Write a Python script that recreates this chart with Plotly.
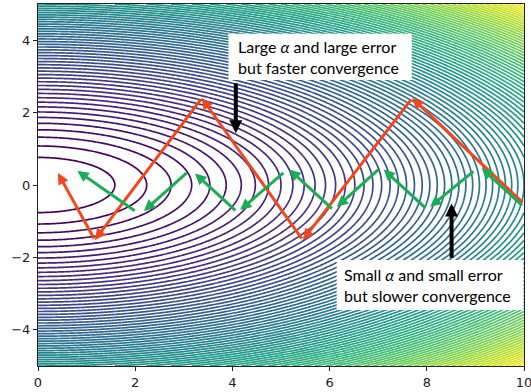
import numpy as np
import plotly.graph_objects as go

# Cost surface parameters (elongated bowl centred at origin)
X_RANGE = (0.0, 10.0)
Y_RANGE = (-5.0, 5.0)
Y_WEIGHT = 4.3
LEVEL_STEP = 2.5

# Large learning-rate path (red)
red_x = [10.0, 7.70, 5.45, 3.37, 1.17, 0.41]
red_y = [-0.52, 2.40, -1.52, 2.40, -1.52, 0.33]

# Small learning-rate steps (green): each step is a separate arrow (start -> end)
green_x0 = [9.99, 8.99, 8.00, 7.04, 6.08, 5.08, 4.09, 3.09, 2.02]
green_y0 = [-0.60, 0.41, -0.67, 0.47, -0.69, 0.37, -0.74, 0.37, -0.74]
green_x1 = [9.13, 8.07, 7.11, 6.15, 5.17, 4.16, 3.23, 2.18, 0.81]
green_y1 = [0.46, -0.60, 0.43, -0.60, 0.43, -0.69, 0.32, -0.72, 0.39]

label_large = "Large <i>α</i> and large error<br>but faster convergence"
label_small = "Small <i>α</i> and small error<br>but slower convergence"

xs = np.linspace(X_RANGE[0], X_RANGE[1], 401)
ys = np.linspace(Y_RANGE[0], Y_RANGE[1], 401)
XX, YY = np.meshgrid(xs, ys)
ZZ = XX ** 2 + Y_WEIGHT * YY ** 2
zmax = float(ZZ.max())

RED = "#f2461c"
GREEN = "#1aad57"

fig = go.Figure()
fig.add_trace(go.Contour(
    x=xs, y=ys, z=ZZ,
    colorscale="Viridis",
    zmin=LEVEL_STEP, zmax=zmax,
    contours=dict(coloring="lines", start=LEVEL_STEP, end=zmax, size=LEVEL_STEP),
    line=dict(width=1.7, smoothing=0),
    showscale=False,
    hoverinfo="skip",
))

annotations = []
# red path arrows
for i in range(len(red_x) - 1):
    annotations.append(dict(
        x=red_x[i + 1], y=red_y[i + 1], ax=red_x[i], ay=red_y[i],
        xref="x", yref="y", axref="x", ayref="y", text="",
        showarrow=True, arrowhead=2, arrowsize=0.75, arrowwidth=3,
        arrowcolor=RED, standoff=0,
    ))
# green step arrows
for x0, y0, x1, y1 in zip(green_x0, green_y0, green_x1, green_y1):
    annotations.append(dict(
        x=x1, y=y1, ax=x0, ay=y0,
        xref="x", yref="y", axref="x", ayref="y", text="",
        showarrow=True, arrowhead=2, arrowsize=0.75, arrowwidth=3,
        arrowcolor=GREEN, standoff=0,
    ))
# black pointer arrows
annotations.append(dict(x=4.07, y=1.43, ax=4.07, ay=2.85, xref="x", yref="y",
                        axref="x", ayref="y", text="", showarrow=True,
                        arrowhead=2, arrowsize=0.65, arrowwidth=4,
                        arrowcolor="black", standoff=0))
annotations.append(dict(x=8.51, y=-0.51, ax=8.51, ay=-2.05, xref="x", yref="y",
                        axref="x", ayref="y", text="", showarrow=True,
                        arrowhead=2, arrowsize=0.65, arrowwidth=4,
                        arrowcolor="black", standoff=0))
# text labels
annotations.append(dict(x=3.92 + 0.15, y=3.54, xref="x", yref="y", text=label_large,
                        showarrow=False, xanchor="left", yanchor="middle", align="left",
                        font=dict(family="Lato", size=16, color="black")))
annotations.append(dict(x=6.146 + 0.1, y=-2.76, xref="x", yref="y", text=label_small,
                        showarrow=False, xanchor="left", yanchor="middle", align="left",
                        font=dict(family="Lato", size=16, color="black")))

shapes = [
    dict(type="rect", xref="x", yref="y", x0=3.92, x1=7.69, y0=2.90, y1=4.18,
         fillcolor="white", line=dict(width=0), layer="above"),
    dict(type="rect", xref="x", yref="y", x0=6.146, x1=9.985, y0=-3.45, y1=-2.07,
         fillcolor="white", line=dict(width=0), layer="above"),
]

axis_common = dict(
    showgrid=False, zeroline=False, showline=True, mirror=True,
    linecolor="#222222", linewidth=1, ticks="outside", ticklen=4,
    tickcolor="#222222", ticklabeloverflow="allow", automargin=False,
    tickfont=dict(family="DejaVu Sans", size=13, color="#222222"),
)
fig.update_layout(
    width=531, height=392,
    margin=dict(l=38, r=7, t=4, b=26),
    paper_bgcolor="white", plot_bgcolor="white",
    xaxis=dict(range=list(X_RANGE), tickvals=[0, 2, 4, 6, 8, 10], **axis_common),
    yaxis=dict(range=list(Y_RANGE), tickvals=[-4, -2, 0, 2, 4], **axis_common),
    annotations=annotations,
    shapes=shapes,
    showlegend=False,
)
fig.write_html("out.html")
